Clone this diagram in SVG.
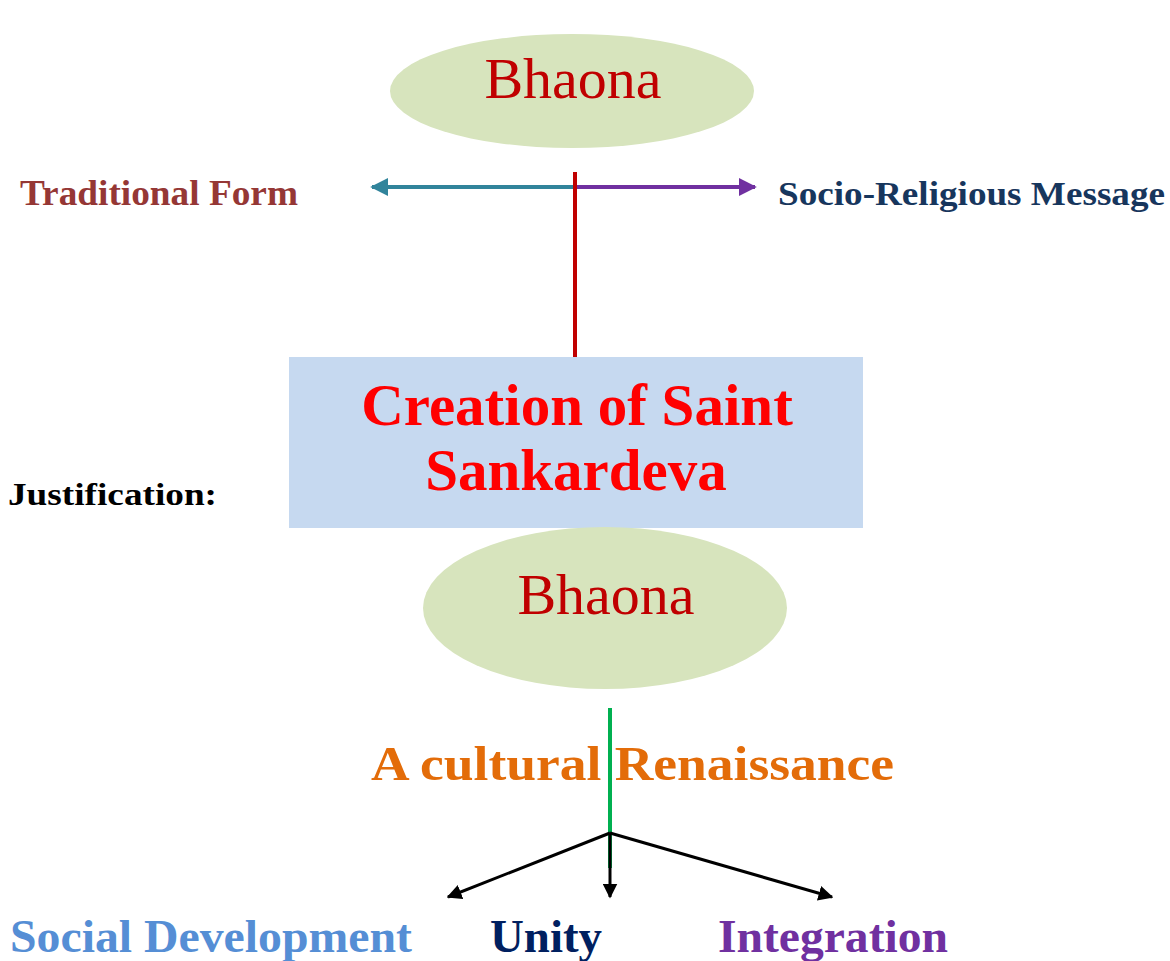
<svg xmlns="http://www.w3.org/2000/svg" width="1170" height="961" viewBox="0 0 1170 961">
<style>
text{font-family:"Liberation Serif","Times New Roman",serif}
.b{font-weight:bold}
.bh{font-size:58px;fill:#c00000;text-anchor:middle}
.ell{fill:#d7e4bd}
</style>
<defs>
<marker id="at" viewBox="0 0 10 10" refX="9" refY="5" markerWidth="4.5" markerHeight="4.5" orient="auto"><path d="M0,0 L10,5 L0,10 z" fill="#31849b"/></marker>
<marker id="ap" viewBox="0 0 10 10" refX="9" refY="5" markerWidth="4.5" markerHeight="4.5" orient="auto"><path d="M0,0 L10,5 L0,10 z" fill="#7030a0"/></marker>
<marker id="ak" viewBox="0 0 10 10" refX="9" refY="5" markerWidth="5" markerHeight="5" orient="auto"><path d="M0,0 L10,5 L0,10 z" fill="#000"/></marker>
</defs>
<g id="bhaona-top"><ellipse class="ell" cx="572" cy="91" rx="182" ry="57"/><text class="bh" x="573" y="98">Bhaona</text></g>
<g id="creation"><rect x="289" y="357" width="574" height="171" fill="#c6d9f0"/>
<text class="b" x="577" y="425" font-size="59" fill="#ff0000" text-anchor="middle">Creation of Saint</text>
<text class="b" x="576" y="490" font-size="59" fill="#ff0000" text-anchor="middle">Sankardeva</text></g>
<g id="bhaona-bottom"><ellipse class="ell" cx="605" cy="608" rx="182" ry="81"/><text class="bh" x="606" y="614">Bhaona</text></g>
<g id="labels">
<text id="traditional" class="b" x="20" y="205" font-size="35" fill="#953735" textLength="278" lengthAdjust="spacingAndGlyphs">Traditional Form</text>
<text id="socio" class="b" x="778" y="205" font-size="33" fill="#17365d" textLength="387" lengthAdjust="spacingAndGlyphs">Socio-Religious Message</text>
<text id="justification" class="b" x="8" y="505" font-size="32" fill="#000" textLength="209" lengthAdjust="spacingAndGlyphs">Justification:</text>
<text id="renaissance" class="b" x="371" y="780" font-size="48" fill="#e36c09" textLength="523" lengthAdjust="spacingAndGlyphs">A cultural Renaissance</text>
<text id="social" class="b" x="10" y="952" font-size="46" fill="#558ed5" textLength="402" lengthAdjust="spacingAndGlyphs">Social Development</text>
<text id="unity" class="b" x="490" y="952" font-size="46" fill="#002060" textLength="112" lengthAdjust="spacingAndGlyphs">Unity</text>
<text id="integration" class="b" x="718" y="952" font-size="46" fill="#7030a0" textLength="230" lengthAdjust="spacingAndGlyphs">Integration</text>
</g>
<g id="connectors" fill="none">
<line x1="575" y1="187" x2="372" y2="187" stroke="#31849b" stroke-width="4" marker-end="url(#at)"/>
<line x1="575" y1="187" x2="755" y2="187" stroke="#7030a0" stroke-width="4" marker-end="url(#ap)"/>
<line x1="575" y1="172" x2="575" y2="357" stroke="#c00000" stroke-width="4"/>
<line x1="610" y1="708" x2="610" y2="868" stroke="#00b050" stroke-width="4"/>
<line x1="610" y1="833" x2="448" y2="897" stroke="#000" stroke-width="3" marker-end="url(#ak)"/>
<line x1="610" y1="833" x2="610" y2="897" stroke="#000" stroke-width="3" marker-end="url(#ak)"/>
<line x1="610" y1="833" x2="832" y2="897" stroke="#000" stroke-width="3" marker-end="url(#ak)"/>
</g>
</svg>
